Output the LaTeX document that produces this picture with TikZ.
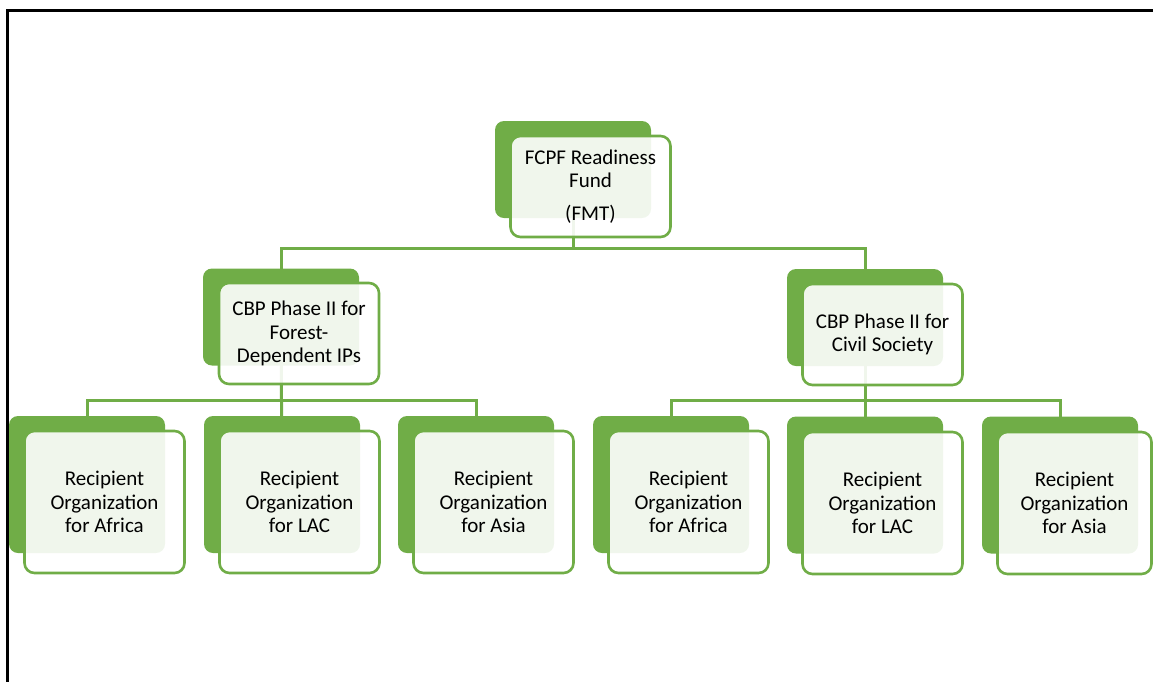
\documentclass[tikz,border=0pt]{standalone}
\usepackage{fontspec}
\setmainfont{Carlito}
\pgfdeclarelayer{background}
\pgfsetlayers{background,main}
\definecolor{ogreen}{HTML}{70AD47}
\tikzset{
  backbox/.style={fill=ogreen, draw=none, rounded corners=9pt, inner sep=0pt},
  backsmall/.style={backbox, minimum width=156pt, minimum height=97pt},
  backtall/.style={backbox, minimum width=156pt, minimum height=137pt},
  frontbox/.style={draw=ogreen, line width=2.6pt, fill=white, fill opacity=0.9, text opacity=1,
     rounded corners=10pt, inner sep=0pt, align=center, text=black,
     font=\fontsize{21}{23.5}\selectfont},
  frontsmall/.style={frontbox, minimum width=160pt, minimum height=101pt},
  fronttall/.style={frontbox, minimum width=160pt, minimum height=142pt},
  conn/.style={draw=ogreen, line width=3pt},
  frame/.style={draw=black, line width=3pt}
}
\begin{document}
\begin{tikzpicture}[x=1pt, y=-1pt]
\useasboundingbox (0,0) rectangle (1153,681);
\draw[frame] (7,683) -- (7,10) -- (1155,10);
% level 1
\node[backsmall] (topb) at (573,169.5) {};
\node[frontsmall] (topf) at (590.5,186.5) {FCPF Readiness\\Fund\\[9pt](FMT)};
% level 2
\node[backsmall] (lb) at (281,317) {};
\node[frontsmall] (lf) at (299,333.5) {CBP Phase II for\\Forest-\\Dependent IPs};
\node[backsmall] (rb) at (865,317.5) {};
\node[frontsmall] (rf) at (882.5,334.5) {CBP Phase II for\\Civil Society};
% level 3
\node[backtall] (c1b) at (87,484.5) {};
\node[fronttall] (c1f) at (104.5,502) {Recipient\\Organization\\for Africa};
\node[backtall] (c2b) at (282,484.5) {};
\node[fronttall] (c2f) at (299.5,502) {Recipient\\Organization\\for LAC};
\node[backtall] (c3b) at (476,484.5) {};
\node[fronttall] (c3f) at (493.5,502) {Recipient\\Organization\\for Asia};
\node[backtall] (c4b) at (671,484.5) {};
\node[fronttall] (c4f) at (688.5,502) {Recipient\\Organization\\for Africa};
\node[backtall] (c5b) at (865,485) {};
\node[fronttall] (c5f) at (882.5,503) {Recipient\\Organization\\for LAC};
\node[backtall] (c6b) at (1060,485) {};
\node[fronttall, minimum width=154pt] (c6f) at (1074.5,503) {Recipient\\Organization\\for Asia};
% connectors
\coordinate (bus1) at (0,248);
\coordinate (bus2) at (0,400);
\begin{pgfonlayer}{background}
\draw[conn] (topb.center) -- (topb.center |- bus1) -| (lb.center);
\draw[conn] (topb.center |- bus1) -| (rb.center);
\draw[conn] (lb.center) -- (lb.center |- bus2) -| (c1b.center);
\draw[conn] (lb.center |- bus2) -| (c3b.center);
\draw[conn] (lb.center) -- (c2b.center);
\draw[conn] (rb.center) -- (rb.center |- bus2) -| (c4b.center);
\draw[conn] (rb.center |- bus2) -| (c6b.center);
\draw[conn] (rb.center) -- (c5b.center);
\end{pgfonlayer}
\end{tikzpicture}
\end{document}
